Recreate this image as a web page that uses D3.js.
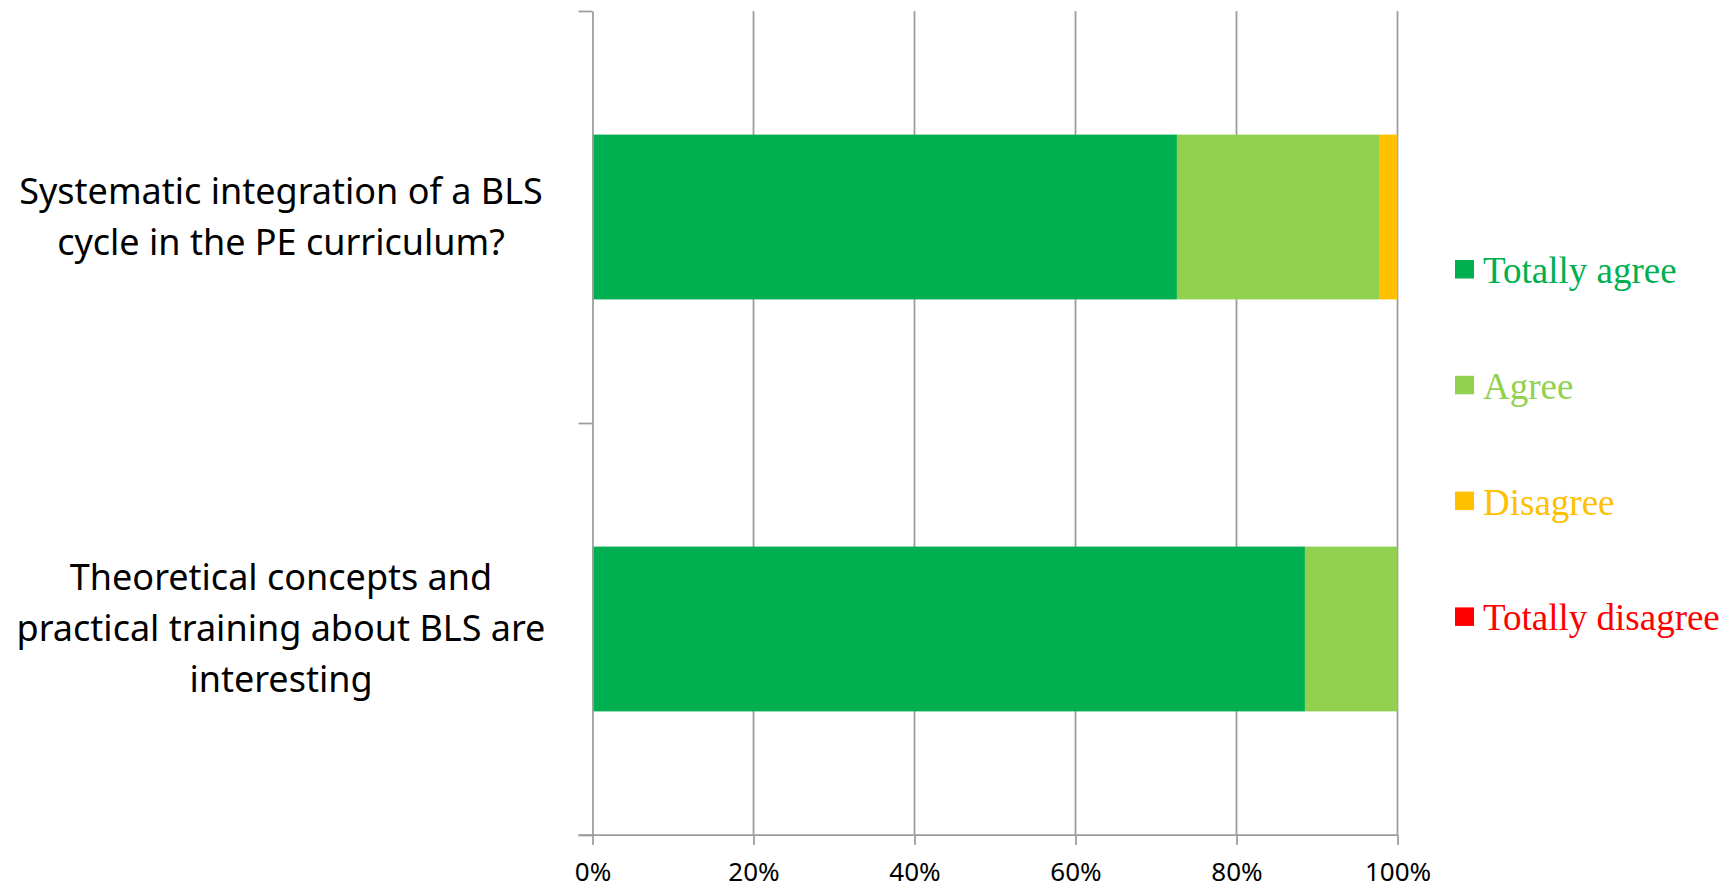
<!DOCTYPE html>
<html lang="en">
<head>
  <meta charset="UTF-8">
  <title>BLS survey - stacked bars</title>
  <script src="https://d3js.org/d3.v7.min.js"></script>
  <style>
    body { margin: 0; background: #fff; }
    svg { display: block; }
  </style>
</head>
<body>
  <svg width="1734" height="890" id="chart"></svg>

  <script>
    // data (percent of answers)
    const questions = [
      ["Systematic integration of a BLS", "cycle in the PE curriculum?"],
      ["Theoretical concepts and", "practical training about BLS are", "interesting"]
    ];
    const answers = ["Totally agree", "Agree", "Disagree", "Totally disagree"];
    const totallyAgree = [72.6, 88.5];
    const agree = [25.1, 11.5];
    const disagree = [2.3, 0];
    const totallyDisagree = [0, 0];
    const xTicks = [0, 20, 40, 60, 80, 100];

    const colors = ["#00B050", "#92D050", "#FFC000", "#FF0000"];

    const svg = d3.select("#chart");
    const margin = { top: 11, left: 592.5, right: 336.5, bottom: 55 };
    const width = +svg.attr("width");
    const height = +svg.attr("height");
    const plotBottom = height - margin.bottom;

    // rows for d3.stack
    const rows = questions.map((q, i) => ({
      key: i,
      "Totally agree": totallyAgree[i],
      "Agree": agree[i],
      "Disagree": disagree[i],
      "Totally disagree": totallyDisagree[i]
    }));

    const x = d3.scaleLinear()
      .domain([0, 100])
      .range([margin.left, width - margin.right]);

    const y = d3.scaleBand()
      .domain(rows.map(d => d.key))
      .range([margin.top, plotBottom])
      .paddingInner(0.6)
      .paddingOuter(0.3);

    // band boundaries for the category axis ticks
    const yEdge = d3.scaleLinear()
      .domain([0, questions.length])
      .range([margin.top, plotBottom]);

    const color = d3.scaleOrdinal().domain(answers).range(colors);

    // vertical gridlines
    svg.append("g")
      .selectAll("line")
      .data(xTicks.slice(1))
      .join("line")
      .attr("x1", d => x(d))
      .attr("x2", d => x(d))
      .attr("y1", margin.top)
      .attr("y2", plotBottom)
      .attr("stroke", "#9c9c9c")
      .attr("stroke-width", 1.75);

    // bars
    const stacked = d3.stack().keys(answers)(rows);
    svg.append("g")
      .selectAll("g")
      .data(stacked)
      .join("g")
      .attr("fill", d => color(d.key))
      .selectAll("rect")
      .data(d => d)
      .join("rect")
      .attr("x", d => x(d[0]))
      .attr("y", d => y(d.data.key))
      .attr("width", d => x(d[1]) - x(d[0]))
      .attr("height", y.bandwidth());

    // x axis
    const xAxis = svg.append("g")
      .attr("transform", `translate(0,${plotBottom})`)
      .call(d3.axisBottom(x)
        .tickValues(xTicks)
        .tickSize(10)
        .tickSizeOuter(0)
        .tickFormat(d => d + "%"));
    xAxis.select(".domain")
      .attr("d", `M${margin.left - 14},0H${x(100)}`)
      .attr("stroke", "#9c9c9c")
      .attr("stroke-width", 1.75);
    xAxis.selectAll(".tick line")
      .attr("stroke", "#9c9c9c")
      .attr("stroke-width", 1.75);
    xAxis.selectAll(".tick text")
      .attr("y", 46)
      .attr("dy", 0)
      .attr("fill", "#000")
      .style("font-family", "'Noto Sans', sans-serif")
      .style("font-size", "26px");

    // y axis (ticks at band edges, no labels)
    const yAxis = svg.append("g")
      .attr("transform", `translate(${margin.left},0)`)
      .call(d3.axisLeft(yEdge)
        .tickValues(d3.range(questions.length + 1))
        .tickSize(14)
        .tickSizeOuter(0)
        .tickFormat(""));
    yAxis.selectAll(".domain, .tick line")
      .attr("stroke", "#9c9c9c")
      .attr("stroke-width", 1.75);

    // category labels
    const lineH = 51;
    svg.append("g")
      .selectAll("text")
      .data(rows)
      .join("text")
      .attr("text-anchor", "middle")
      .attr("fill", "#000")
      .style("font-family", "'Noto Sans', sans-serif")
      .style("font-size", "36px")
      .each(function (d) {
        const lines = questions[d.key];
        const cy = y(d.key) + y.bandwidth() / 2;
        d3.select(this).selectAll("tspan")
          .data(lines)
          .join("tspan")
          .attr("x", 281)
          .attr("y", (l, i) => cy + (i - (lines.length - 1) / 2) * lineH + 12)
          .text(l => l);
      });

    // legend
    const legend = svg.append("g")
      .selectAll("g")
      .data(answers)
      .join("g")
      .attr("transform", (d, i) => `translate(1455,${269 + i * 115.8})`);
    legend.append("rect")
      .attr("x", 0)
      .attr("y", -9)
      .attr("width", 19)
      .attr("height", 18.5)
      .attr("fill", d => color(d));
    legend.append("text")
      .attr("x", 28)
      .attr("y", 14)
      .attr("fill", d => color(d))
      .style("font-family", "'Liberation Serif', 'Times New Roman', serif")
      .style("font-size", "37px")
      .text(d => d);
  </script>
</body>
</html>
